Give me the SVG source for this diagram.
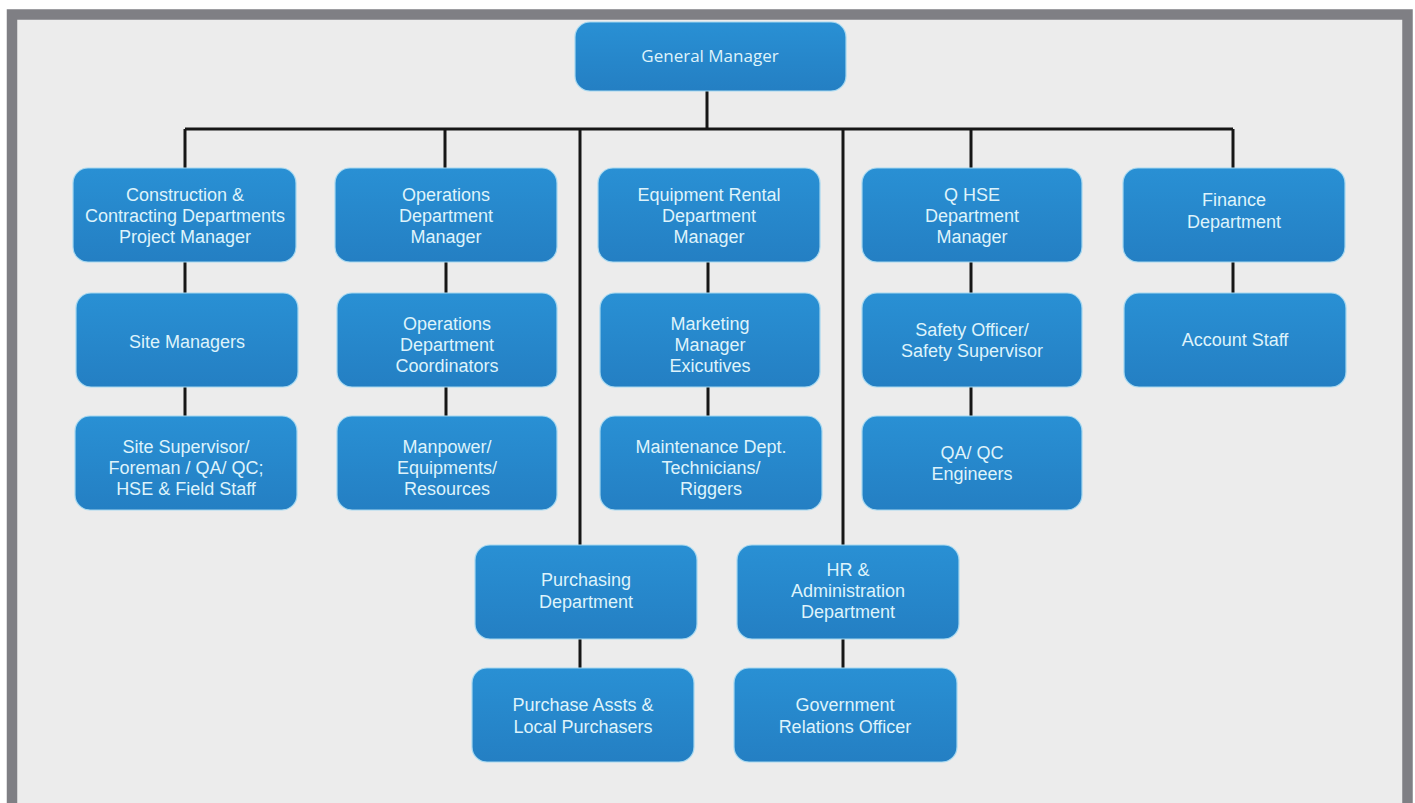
<svg xmlns="http://www.w3.org/2000/svg" width="1415" height="803" viewBox="0 0 1415 803">
<defs>
<linearGradient id="g" x1="0" y1="0" x2="0" y2="1">
<stop offset="0" stop-color="#2990d4"/>
<stop offset="1" stop-color="#247fc3"/>
</linearGradient>
<style>
.box{fill:url(#g);stroke:#a6d8f0;stroke-width:1.2}
.t{font-family:"Liberation Sans",Arial,sans-serif;font-size:18px;fill:#def3fb;text-anchor:middle}
.gm{font-family:"Open Sans","Liberation Sans",sans-serif;font-size:17px;fill:#def3fb;text-anchor:middle}
.c{stroke:#161616;stroke-width:3;fill:none}
</style>
</defs>
<rect x="0" y="0" width="1415" height="803" fill="#ffffff"/>
<rect x="12" y="14.5" width="1395.5" height="800" fill="#ececec" stroke="#7f7f84" stroke-width="10.5"/>
<g id="connectors">
<path class="c" d="M707 91V129M185 129H1233M185 129V168M445 129V168M580 129V545M971 129V168M843 129V545M1233 129V168"/>
<path class="c" d="M185 262V293M185 387V416M446 262V293M446 387V416M708 262V293M708 387V416M971 262V293M971 387V416M1233 262V293M580 639V668M843 639V668"/>
</g>
<g id="gm"><rect class="box" x="575" y="22" width="271" height="69" rx="15"/><text class="gm" x="710" y="62">General Manager</text></g>
<g id="construction"><rect class="box" x="73" y="168" width="223" height="94" rx="15"/><text class="t" x="185" y="201">Construction &amp;</text><text class="t" x="185" y="222">Contracting Departments</text><text class="t" x="185" y="243">Project Manager</text></g>
<g id="operations"><rect class="box" x="335" y="168" width="222" height="94" rx="15"/><text class="t" x="446" y="201">Operations</text><text class="t" x="446" y="222">Department</text><text class="t" x="446" y="243">Manager</text></g>
<g id="equipment"><rect class="box" x="598" y="168" width="222" height="94" rx="15"/><text class="t" x="709" y="201">Equipment Rental</text><text class="t" x="709" y="222">Department</text><text class="t" x="709" y="243">Manager</text></g>
<g id="qhse"><rect class="box" x="862" y="168" width="220" height="94" rx="15"/><text class="t" x="972" y="201">Q HSE</text><text class="t" x="972" y="222">Department</text><text class="t" x="972" y="243">Manager</text></g>
<g id="finance"><rect class="box" x="1123" y="168" width="222" height="94" rx="15"/><text class="t" x="1234" y="206">Finance</text><text class="t" x="1234" y="228">Department</text></g>
<g id="site-managers"><rect class="box" x="76" y="293" width="222" height="94" rx="15"/><text class="t" x="187" y="348">Site Managers</text></g>
<g id="ops-coordinators"><rect class="box" x="337" y="293" width="220" height="94" rx="15"/><text class="t" x="447" y="330">Operations</text><text class="t" x="447" y="351">Department</text><text class="t" x="447" y="372">Coordinators</text></g>
<g id="marketing"><rect class="box" x="600" y="293" width="220" height="94" rx="15"/><text class="t" x="710" y="330">Marketing</text><text class="t" x="710" y="351">Manager</text><text class="t" x="710" y="372">Exicutives</text></g>
<g id="safety"><rect class="box" x="862" y="293" width="220" height="94" rx="15"/><text class="t" x="972" y="336">Safety Officer/</text><text class="t" x="972" y="357">Safety Supervisor</text></g>
<g id="account"><rect class="box" x="1124" y="293" width="222" height="94" rx="15"/><text class="t" x="1235" y="346">Account Staff</text></g>
<g id="site-supervisor"><rect class="box" x="75" y="416" width="222" height="94" rx="15"/><text class="t" x="186" y="453">Site Supervisor/</text><text class="t" x="186" y="474">Foreman / QA/ QC;</text><text class="t" x="186" y="495">HSE &amp; Field Staff</text></g>
<g id="manpower"><rect class="box" x="337" y="416" width="220" height="94" rx="15"/><text class="t" x="447" y="453">Manpower/</text><text class="t" x="447" y="474">Equipments/</text><text class="t" x="447" y="495">Resources</text></g>
<g id="maintenance"><rect class="box" x="600" y="416" width="222" height="94" rx="15"/><text class="t" x="711" y="453">Maintenance Dept.</text><text class="t" x="711" y="474">Technicians/</text><text class="t" x="711" y="495">Riggers</text></g>
<g id="qaqc"><rect class="box" x="862" y="416" width="220" height="94" rx="15"/><text class="t" x="972" y="459">QA/ QC</text><text class="t" x="972" y="480">Engineers</text></g>
<g id="purchasing"><rect class="box" x="475" y="545" width="222" height="94" rx="15"/><text class="t" x="586" y="586">Purchasing</text><text class="t" x="586" y="608">Department</text></g>
<g id="hr"><rect class="box" x="737" y="545" width="222" height="94" rx="15"/><text class="t" x="848" y="576">HR &amp;</text><text class="t" x="848" y="597">Administration</text><text class="t" x="848" y="618">Department</text></g>
<g id="purchase-assts"><rect class="box" x="472" y="668" width="222" height="94" rx="15"/><text class="t" x="583" y="711">Purchase Assts &amp;</text><text class="t" x="583" y="733">Local Purchasers</text></g>
<g id="government"><rect class="box" x="734" y="668" width="223" height="94" rx="15"/><text class="t" x="845" y="711">Government</text><text class="t" x="845" y="733">Relations Officer</text></g>
</svg>
